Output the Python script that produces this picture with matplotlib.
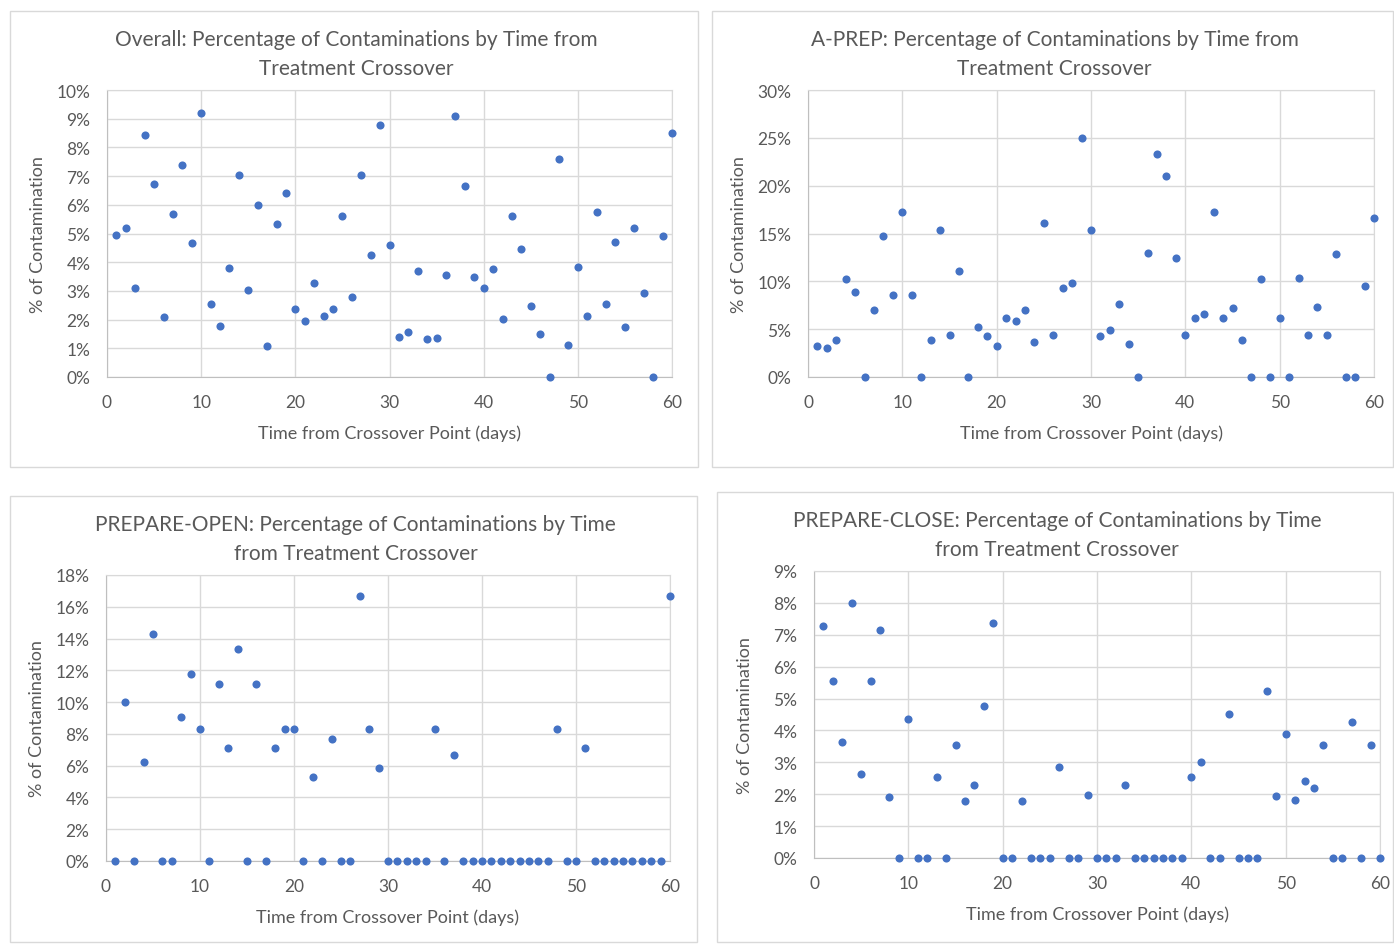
import matplotlib
matplotlib.use("Agg")
import matplotlib.pyplot as plt
from matplotlib.patches import Rectangle
from matplotlib.ticker import FuncFormatter, MultipleLocator

plt.rcParams['font.family'] = ['Lato', 'DejaVu Sans']

# day after treatment crossover
days = list(range(1, 61))

# % contaminated
overall = [4.95, 5.2, 3.1, 8.43, 6.72, 2.1, 5.68, 7.39, 4.67, 9.2,
           2.54, 1.78, 3.8, 7.04, 3.03, 5.99, 1.08, 5.33, 6.41, 2.37,
           1.95, 3.28, 2.13, 2.37, 5.6, 2.79, 7.04, 4.25, 8.78, 4.6,
           1.39, 1.57, 3.69, 1.32, 1.36, 3.55, 9.09, 6.65, 3.48, 3.1,
           3.76, 2.02, 5.6, 4.46, 2.47, 1.5, 0.0, 7.6, 1.11, 3.83,
           2.13, 5.75, 2.54, 4.7, 1.74, 5.19, 2.93, 0.0, 4.91, 8.5]

a_prep = [3.24, 3.0, 3.9, 10.2, 8.9, 0.0, 7.0, 14.7, 8.6, 17.2,
          8.6, 0.0, 3.9, 15.4, 4.4, 11.1, 0.0, 5.2, 4.3, 3.2,
          6.2, 5.9, 7.0, 3.7, 16.1, 4.4, 9.3, 9.8, 25.0, 15.4,
          4.3, 4.9, 7.6, 3.4, 0.0, 13.0, 23.3, 21.0, 12.4, 4.4,
          6.2, 6.6, 17.2, 6.2, 7.2, 3.9, 0.0, 10.2, 0.0, 6.2,
          0.0, 10.3, 4.4, 7.3, 4.4, 12.9, 0.0, 0.0, 9.5, 16.6]

prepare_open = [0.0, 10.0, 0.0, 6.25, 14.29, 0.0, 0.0, 9.09, 11.76, 8.33,
                0.0, 11.11, 7.14, 13.33, 0.0, 11.11, 0.0, 7.14, 8.33, 8.33,
                0.0, 5.26, 0.0, 7.69, 0.0, 0.0, 16.67, 8.33, 5.88, 0.0,
                0.0, 0.0, 0.0, 0.0, 8.33, 0.0, 6.67, 0.0, 0.0, 0.0,
                0.0, 0.0, 0.0, 0.0, 0.0, 0.0, 0.0, 8.33, 0.0, 0.0,
                7.14, 0.0, 0.0, 0.0, 0.0, 0.0, 0.0, 0.0, 0.0, 16.67]

prepare_close = [7.27, 5.55, 3.63, 8.0, 2.62, 5.55, 7.14, 1.91, 0.0, 4.35,
                 0.0, 0.0, 2.54, 0.0, 3.55, 1.79, 2.3, 4.76, 7.38, 0.0,
                 0.0, 1.79, 0.0, 0.0, 0.0, 2.84, 0.0, 0.0, 1.98, 0.0,
                 0.0, 0.0, 2.3, 0.0, 0.0, 0.0, 0.0, 0.0, 0.0, 2.54,
                 3.0, 0.0, 0.0, 4.52, 0.0, 0.0, 0.0, 5.24, 1.94, 3.9,
                 1.83, 2.41, 2.18, 3.55, 0.0, 0.0, 4.25, 0.0, 3.55, 0.0]

titles = ["Overall: Percentage of Contaminations by Time from\nTreatment Crossover",
          "A-PREP: Percentage of Contaminations by Time from\nTreatment Crossover",
          "PREPARE-OPEN: Percentage of Contaminations by Time\nfrom Treatment Crossover",
          "PREPARE-CLOSE: Percentage of Contaminations by Time\nfrom Treatment Crossover"]
series = [overall, a_prep, prepare_open, prepare_close]
ymax = [10, 30, 18, 9]
ystep = [1, 5, 2, 1]

W, H = 1394, 945
# chart box, plot area (pixels: left, top, right, bottom)
boxes = [(10, 12, 698, 468), (712, 12, 1393, 468),
         (10, 497, 697, 943), (717, 493, 1393, 943)]
plots = [(107, 91, 672, 378), (808, 91, 1374, 378),
         (106, 576, 670, 862), (814, 572, 1380, 859)]

txt = '#595959'
grid = '#D9D9D9'
blue = '#4472C4'

fig = plt.figure(figsize=(W / 100, H / 100), dpi=100)

for i in range(4):
    bx0, by0, bx1, by1 = boxes[i]
    fig.patches.append(Rectangle((bx0 / W, 1 - by1 / H), (bx1 - bx0) / W, (by1 - by0) / H,
                                 transform=fig.transFigure, fill=False,
                                 edgecolor='#D9D9D9', linewidth=1))
    x0, y0, x1, y1 = plots[i]
    ax = fig.add_axes([x0 / W, 1 - y1 / H, (x1 - x0) / W, (y1 - y0) / H])
    ax.scatter(days, series[i], s=34, color=blue, zorder=3, clip_on=False, linewidths=0)
    ax.set_xlim(0, 60)
    ax.set_ylim(0, ymax[i])
    ax.xaxis.set_major_locator(MultipleLocator(10))
    ax.yaxis.set_major_locator(MultipleLocator(ystep[i]))
    ax.yaxis.set_major_formatter(FuncFormatter(lambda v, p: f"{v:.0f}%"))
    ax.grid(True, color=grid, linewidth=1)
    ax.set_axisbelow(True)
    ax.tick_params(length=0, pad=12, labelsize=12.5, colors=txt)
    for s in ['top', 'right']:
        ax.spines[s].set_color(grid)
    for s in ['left', 'bottom']:
        ax.spines[s].set_color('#BFBFBF')

    cx = (bx0 + bx1) / 2 + 2
    fig.text(cx / W, 1 - (by0 + 42.5) / H, titles[i], ha='center', va='center',
             fontsize=15, color=txt, linespacing=1.6)
    fig.text((x0 + x1) / 2 / W, 1 - (y1 + 56) / H, "Time from Crossover Point (days)",
             ha='center', va='center', fontsize=13, color=txt)
    fig.text((x0 - 69) / W, 1 - (y0 + y1) / 2 / H, "% of Contamination", rotation=90,
             ha='center', va='center', fontsize=13, color=txt)

fig.savefig("out.png", dpi=100)
